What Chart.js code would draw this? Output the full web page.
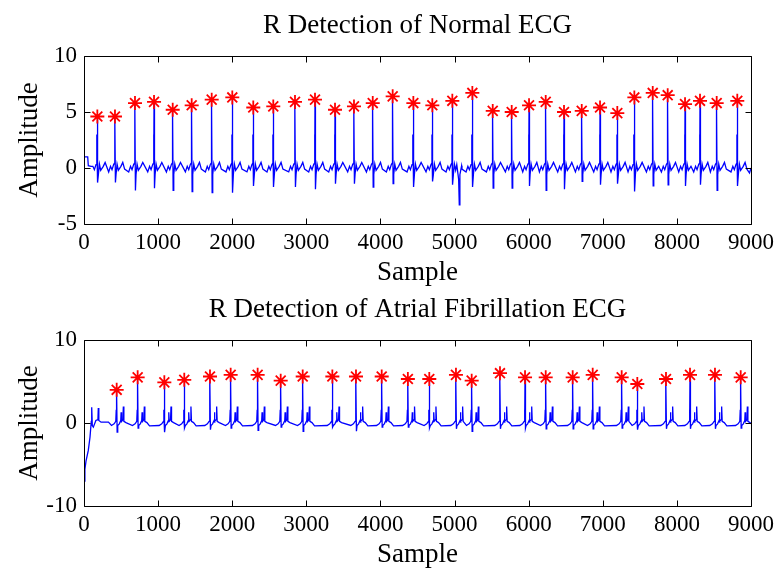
<!DOCTYPE html>
<html>
<head>
<meta charset="utf-8">
<script src="https://cdn.jsdelivr.net/npm/chart.js@4.4.1/dist/chart.umd.min.js"></script>
<style>
  html, body { margin: 0; padding: 0; background: #fff; width: 774px; height: 571px; overflow: hidden; }
  canvas { position: absolute; left: 0; }
  #c1 { top: 0; }
  #c2 { top: 284px; }
</style>
</head>
<body>
<canvas id="c1" width="774" height="290"></canvas>
<canvas id="c2" width="774" height="288"></canvas>
<script>
// ---------- tick values ----------
const xTicks = [0, 1000, 2000, 3000, 4000, 5000, 6000, 7000, 8000, 9000];
const yTicksNormal = [-5, 0, 5, 10];
const yTicksAF = [-10, 0, 10];

// ---------- Normal ECG: detected R peaks ----------
const normalRSample = [180, 418, 688, 945, 1197, 1453, 1723, 2001, 2284, 2554, 2847, 3117, 3387, 3643, 3896, 4165, 4444, 4700, 4970, 5240, 5515, 5771, 6005, 6230, 6477, 6716, 6963, 7196, 7426, 7674, 7876, 8110, 8312, 8537, 8815];
const normalRAmp = [4.6, 4.6, 5.8, 5.9, 5.2, 5.6, 6.1, 6.3, 5.4, 5.5, 5.9, 6.1, 5.2, 5.5, 5.8, 6.4, 5.8, 5.6, 6.0, 6.7, 5.1, 5.0, 5.6, 5.9, 5.0, 5.1, 5.4, 4.9, 6.3, 6.7, 6.5, 5.7, 6.0, 5.8, 6.0];
const normalSAmp = [-1.3, -1.3, -2.0, -1.8, -2.0, -2.1, -2.2, -2.2, -1.6, -1.7, -1.7, -1.9, -1.4, -1.4, -1.7, -1.4, -1.7, -1.2, -1.5, -1.7, -1.8, -1.8, -1.6, -2.0, -1.9, -1.2, -1.5, -1.4, -2.1, -1.6, -1.5, -1.6, -1.5, -2.0, -1.6];
// typical beat shape around R (sample offsets / amplitudes)
const normalPreOffset = [-85, -60, -40, -18, -9, -5, -2];
const normalPreLevel = [-0.35, 0.15, -0.15, 0.3, 0.4, 3.0, 0.6];
const normalPostOffset = [14, 28, 45, 80, 105, 130, 165];
const normalPostLevel = [-0.6, 0.35, -0.2, 0.15, 0.5, -0.1, -0.45];
const normalLead = [[0, 1.0], [50, 1.0], [58, 0.2], [95, 0.15]];
const normalExtra = [[5030, 0.3], [5055, -1.0], [5064, -3.3], [5072, -0.6], [5095, 0.2]];
const normalTail = [[9000, 0.0]];

// ---------- Atrial fibrillation ECG: detected R peaks ----------
const afRSample = [441, 724, 1084, 1353, 1700, 1979, 2343, 2654, 2951, 3351, 3670, 4017, 4370, 4659, 5019, 5231, 5613, 5951, 6230, 6594, 6864, 7255, 7466, 7853, 8177, 8514, 8861];
const afRAmp = [4.0, 5.5, 4.9, 5.2, 5.6, 5.8, 5.8, 5.1, 5.6, 5.6, 5.6, 5.6, 5.3, 5.3, 5.8, 5.1, 6.0, 5.5, 5.5, 5.5, 5.8, 5.5, 4.7, 5.3, 5.8, 5.8, 5.5];
const afSAmp = [-1.1, -0.6, -1.1, -0.6, -0.8, -0.6, -0.9, -0.5, -1.0, -0.5, -1.0, -0.5, -0.5, -0.6, -0.7, -1.0, -0.7, -0.6, -0.7, -0.7, -0.7, -0.6, -0.8, -0.7, -0.7, -0.7, -0.6];
const afPreOffset = [-70, -35, -12, -6, -3];
const afPreLevel = [-0.3, -0.1, 0.2, 1.6, 0.2];
const afPostOffset = [14, 35, 55, 60, 66, 84, 90, 97, 125, 160];
const afPostLevel = [-0.3, -0.1, 0.3, 1.3, 0.2, 0.4, 2.0, 0.2, 0.05, -0.35];
const afLead = [[0, -7.0], [12, -5.6], [27, -4.6], [58, -3.3], [81, -1.7], [98, 0.2], [104, 1.9], [112, -0.3], [126, -0.5], [160, 0.3], [188, 0.4], [193, 1.8], [200, 0.3], [230, 0.1], [330, 0.1]];
const afExtra = [];
const afTail = [[9000, -0.1]];

// ---------- assemble the traces from the values above ----------
function buildTrace(lead, rS, rA, sA, preOff, preLvl, postOff, postLvl, extra, tail) {
  let pts = lead.map(([x, y]) => ({ x, y }));
  const leadEnd = lead[lead.length - 1][0];
  for (let i = 0; i < rS.length; i++) {
    const R = rS[i];
    const left = i === 0 ? leadEnd : (rS[i - 1] + R) / 2;
    const right = i === rS.length - 1 ? 8999 : (R + rS[i + 1]) / 2;
    preOff.forEach((o, k) => { if (R + o > left) pts.push({ x: R + o, y: preLvl[k] }); });
    pts.push({ x: R, y: rA[i] });
    pts.push({ x: R + 6, y: sA[i] });
    postOff.forEach((o, k) => { if (R + o < right) pts.push({ x: R + o, y: postLvl[k] }); });
  }
  if (extra.length) {
    const lo = extra[0][0], hi = extra[extra.length - 1][0];
    pts = pts.filter(p => p.x < lo || p.x > hi);
    extra.forEach(([x, y]) => pts.push({ x, y }));
  }
  tail.forEach(([x, y]) => pts.push({ x, y }));
  pts.sort((a, b) => a.x - b.x);
  return pts;
}

const normalTrace = buildTrace(normalLead, normalRSample, normalRAmp, normalSAmp, normalPreOffset, normalPreLevel, normalPostOffset, normalPostLevel, normalExtra, normalTail);
const afTrace = buildTrace(afLead, afRSample, afRAmp, afSAmp, afPreOffset, afPreLevel, afPostOffset, afPostLevel, afExtra, afTail);
const normalPeaks = normalRSample.map((x, i) => ({ x, y: normalRAmp[i] }));
const afPeaks = afRSample.map((x, i) => ({ x, y: afRAmp[i] }));

// ---------- MATLAB-like box with inward ticks ----------
const boxPlugin = {
  id: 'box',
  afterDraw(chart) {
    const { ctx, chartArea: a, scales } = chart;
    const L = Math.round(a.left) + 0.5, R = Math.round(a.right) + 0.5;
    const T = Math.round(a.top) + 0.5, B = Math.round(a.bottom) + 0.5;
    ctx.save();
    ctx.strokeStyle = '#000';
    ctx.lineWidth = 1;
    ctx.beginPath();
    ctx.rect(L, T, R - L, B - T);
    scales.x.ticks.forEach(t => {
      const p = Math.round(scales.x.getPixelForValue(t.value)) + 0.5;
      ctx.moveTo(p, B); ctx.lineTo(p, B - 6);
      ctx.moveTo(p, T); ctx.lineTo(p, T + 6);
    });
    scales.y.ticks.forEach(t => {
      const p = Math.round(scales.y.getPixelForValue(t.value)) + 0.5;
      ctx.moveTo(L, p); ctx.lineTo(L + 6, p);
      ctx.moveTo(R, p); ctx.lineTo(R - 6, p);
    });
    ctx.stroke();
    ctx.restore();
  }
};

const FONT = 'Liberation Serif';
const plainLabel = v => String(v);

function makeChart(id, title, trace, peaks, yTicks, plotBottom, canvasH) {
  const yStep = yTicks[1] - yTicks[0];
  return new Chart(document.getElementById(id), {
    type: 'line',
    data: {
      datasets: [
        {
          data: peaks,
          showLine: false,
          pointStyle: 'star',
          pointRadius: 7,
          pointBorderColor: '#ff0000',
          pointBackgroundColor: '#ff0000',
          pointBorderWidth: 1.8,
          borderColor: '#ff0000'
        },
        {
          data: trace,
          borderColor: '#0000ff',
          borderWidth: 1.3,
          pointRadius: 0,
          tension: 0,
          fill: false
        }
      ]
    },
    options: {
      responsive: false,
      animation: false,
      events: [],
      layout: { padding: { left: 0, right: 23, top: 0, bottom: 0 } },
      plugins: {
        legend: { display: false },
        tooltip: { enabled: false },
        title: {
          display: true,
          text: title,
          fullSize: false,
          color: '#000',
          font: { family: FONT, size: 27, weight: 'normal' },
          padding: { top: 9.8, bottom: 13.8 }
        }
      },
      scales: {
        x: {
          type: 'linear',
          min: xTicks[0],
          max: xTicks[xTicks.length - 1],
          afterBuildTicks: s => { s.ticks = xTicks.map(v => ({ value: v })); },
          afterFit: s => { s.height = canvasH - plotBottom; s.paddingLeft = 0; s.paddingRight = 0; },
          grid: { display: false, drawTicks: false },
          border: { display: false },
          ticks: { color: '#000', font: { family: FONT, size: 23 }, padding: 5, maxRotation: 0, autoSkip: false, callback: plainLabel },
          title: { display: true, text: 'Sample', color: '#000', font: { family: FONT, size: 27 }, padding: { top: 0, bottom: 1 } }
        },
        y: {
          min: yTicks[0],
          max: yTicks[yTicks.length - 1],
          ticks: { stepSize: yStep, color: '#000', font: { family: FONT, size: 23 }, padding: 7, callback: plainLabel },
          afterFit: s => { s.width = 84; s.paddingTop = 0; s.paddingBottom = 0; },
          grid: { display: false, drawTicks: false },
          border: { display: false },
          title: { display: true, text: 'Amplitude', color: '#000', font: { family: FONT, size: 27 }, padding: { top: 14, bottom: 0 } }
        }
      }
    },
    plugins: [boxPlugin]
  });
}

makeChart('c1', 'R Detection of Normal ECG', normalTrace, normalPeaks, yTicksNormal, 224, 290);
makeChart('c2', 'R Detection of Atrial Fibrillation ECG', afTrace, afPeaks, yTicksAF, 222, 288);
</script>
</body>
</html>
